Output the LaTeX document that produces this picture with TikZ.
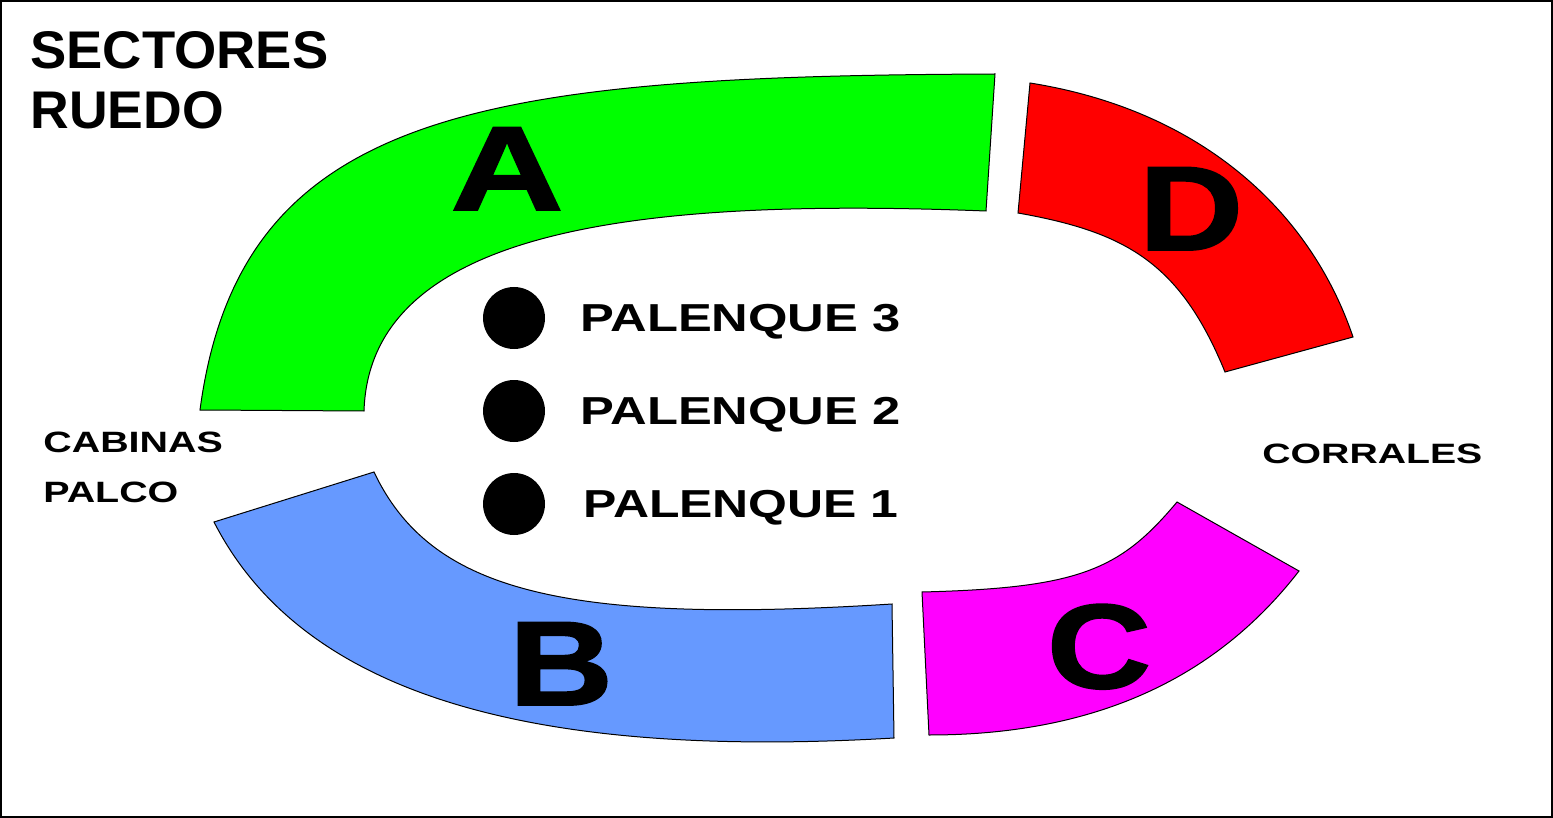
\documentclass[tikz,border=0pt]{standalone}
\usepackage{fontspec}
\usepackage{graphicx}
\setmainfont{Liberation Sans}
\newfontfamily\heavy[BoldFeatures={FakeBold=1.5}]{Liberation Sans}
\definecolor{secA}{HTML}{00FF00}
\definecolor{secB}{HTML}{6699FF}
\definecolor{secC}{HTML}{FF00FF}
\definecolor{secD}{HTML}{FF0000}
\tikzset{
  sector/.style={draw=black, line width=0.5pt, line join=miter},
  big/.style={anchor=base, inner sep=0pt, font=\heavy\bfseries\fontsize{60}{60}\selectfont},
  lbl/.style={anchor=base west, inner sep=0pt, font=\bfseries},
  dot/.style={circle, fill=black, minimum size=31pt, inner sep=0pt}
}
\begin{document}
\begin{tikzpicture}[x=0.5pt,y=-0.5pt]
\path[use as bounding box] (0,0) rectangle (1553,818);
\draw[line width=1pt] (1,1) rectangle (1552,817);
% sector A
\path[sector, fill=secA] (200,410) .. controls (240,110) and (480,76) .. (995,74)
  -- (986,211) .. controls (650,198) and (370,225) .. (364,411) -- cycle;
% sector D
\path[sector, fill=secD] (1030,83) .. controls (1200,110) and (1310,210) .. (1353,337)
  -- (1225,372) .. controls (1180,262) and (1125,232) .. (1018,213) -- cycle;
% sector B
\path[sector, fill=secB] (214,522) .. controls (300,690) and (520,760) .. (894,738)
  -- (892,604) .. controls (560,625) and (430,590) .. (374,472) -- cycle;
% sector C
\path[sector, fill=secC] (922,592) .. controls (1080,588) and (1120,570) .. (1177,502)
  -- (1299,571) .. controls (1230,660) and (1120,735) .. (929,735) -- cycle;
% big letters
\node[big] (la) at (507,210) {\scalebox{1.3}[1]{A}};
\node[big] (ld) at (1191,250) {\scalebox{1.2}[1]{D}};
\node[big] (lb) at (561,705) {\scalebox{1.2}[1]{B}};
\node[big] (lc) at (1099,688) {\scalebox{1.2}[1]{C}};
% title
\node[lbl, font=\bfseries\fontsize{26.5}{26.5}\selectfont] (t1) at (30,69) {\scalebox{1.025}[1]{SECTORES}};
\node[lbl, font=\bfseries\fontsize{26.5}{26.5}\selectfont] (t2) at (30,129) {\scalebox{1.01}[1]{RUEDO}};
% palenques
\node[dot] (d3) at (514,318) {};
\node[dot] (d2) at (514,411) {};
\node[dot] (d1) at (514,504) {};
\node[lbl, font=\bfseries\fontsize{19.5}{19.5}\selectfont] (p3) at (580,331) {\scalebox{1.30}[1]{PALENQUE 3}};
\node[lbl, font=\bfseries\fontsize{19.5}{19.5}\selectfont] (p2) at (580,424) {\scalebox{1.30}[1]{PALENQUE 2}};
\node[lbl, font=\bfseries\fontsize{19.5}{19.5}\selectfont] (p1) at (583,517) {\scalebox{1.28}[1]{PALENQUE 1}};
% side labels
\node[lbl, font=\bfseries\fontsize{14.7}{14.7}\selectfont] (cab) at (43,452) {\scalebox{1.34}[1]{CABINAS}};
\node[lbl, font=\bfseries\fontsize{14.7}{14.7}\selectfont] (pal) at (43,502) {\scalebox{1.34}[1]{PALCO}};
\node[lbl, font=\bfseries\fontsize{14}{14}\selectfont] (cor) at (1262,463) {\scalebox{1.4}[1]{CORRALES}};
\end{tikzpicture}
\end{document}
